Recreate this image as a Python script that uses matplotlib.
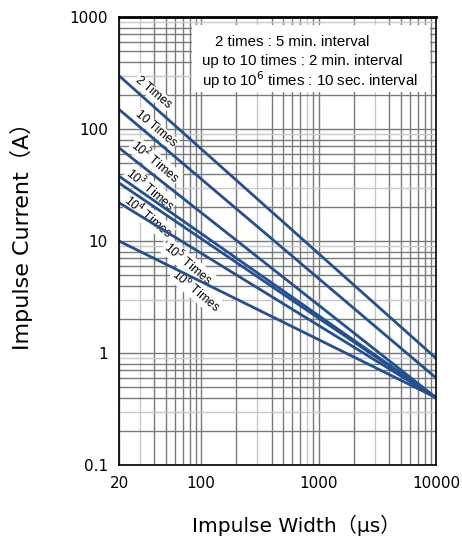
import numpy as np
import matplotlib.pyplot as plt

plt.rcParams['font.family'] = ['DejaVu Sans', 'Noto Sans CJK JP']

# impulse width range (us)
width_ends = [20, 10000]

# impulse current at 20 us and at 10000 us for each repetition count
series_names = ['2 Times', '10 Times', '10$^2$ Times', '10$^3$ Times',
                '10$^4$ Times', '10$^5$ Times', '10$^6$ Times']
current_start = [300, 150, 68, 38, 33, 22, 10]
current_end = [0.9, 0.6, 0.4, 0.4, 0.4, 0.4, 0.4]

# label centre points (width, current)
label_x = [39.0, 41.3, 40.5, 36.8, 35.3, 77.5, 90.6]
label_y = [212, 100, 51, 29, 16.5, 6.3, 3.6]

note_lines = ['2 times : 5 min. interval',
              'up to 10 times : 2 min. interval',
              'up to 10$^6$ times : 10 sec. interval']
note_x = [0.303, 0.262, 0.262]
note_y = [0.944, 0.902, 0.859]

fig = plt.figure(figsize=(4.62, 5.37), dpi=100)
ax = fig.add_axes([0.2576, 0.1341, 0.686, 0.834])
ax.set_xscale('log')
ax.set_yscale('log')
ax.set_xlim(20, 10000)
ax.set_ylim(0.1, 1000)

# grid lines of the log paper
light = {30, 300, 3000, 800}
for dec in [10, 100, 1000]:
    for m in range(1, 10):
        v = m * dec
        if v < 20 or v > 10000:
            continue
        c = '#c8c8c8' if v in light else '#7a7a7a'
        ax.axvline(v, color=c, lw=1.0, zorder=1)
for dec in [0.1, 1, 10, 100]:
    for m in range(1, 10):
        v = m * dec
        c = '#c8c8c8' if m in (3, 9) else '#7a7a7a'
        ax.axhline(v, color=c, lw=1.0, zorder=1)

for name, s, e in zip(series_names, current_start, current_end):
    ax.plot(width_ends, [s, e], color='#24508f', lw=2.0, zorder=3)

for name, lx, ly in zip(series_names, label_x, label_y):
    ax.text(lx, ly, name, fontsize=8.8, rotation=-40, family='Liberation Sans',
            ha='center', va='center', rotation_mode='anchor', zorder=2.5,
            bbox=dict(facecolor='white', edgecolor='none', pad=0.5))

ax.add_patch(plt.Rectangle((0.230, 0.833), 0.751, 0.149, transform=ax.transAxes,
                           facecolor='white', edgecolor='none', zorder=4.5))
for line, nx, ny in zip(note_lines, note_x, note_y):
    ax.text(nx, ny, line, transform=ax.transAxes, fontsize=10.8,
            family='Liberation Sans', ha='left', va='center', zorder=5)

ax.set_xticks([20, 100, 1000, 10000])
ax.set_xticklabels(['20', '100', '1000', '10000'])
ax.set_yticks([0.1, 1, 10, 100, 1000])
ax.set_yticklabels(['0.1', '1', '10', '100', '1000'])
ax.minorticks_off()
ax.tick_params(length=0, labelsize=11, pad=8)

for side in ['left', 'bottom', 'right']:
    ax.spines[side].set_linewidth(1.2)
    ax.spines[side].set_zorder(6)
ax.spines['top'].set_linewidth(2.0)
ax.spines['top'].set_zorder(6)

ax.set_xlabel('Impulse Width（μs）', fontsize=14.5)
ax.set_ylabel('Impulse Current（A）', fontsize=16)
ax.xaxis.set_label_coords(0.558, -0.112)
ax.yaxis.set_label_coords(-0.271, 0.522)

fig.savefig('out.png', dpi=100)
